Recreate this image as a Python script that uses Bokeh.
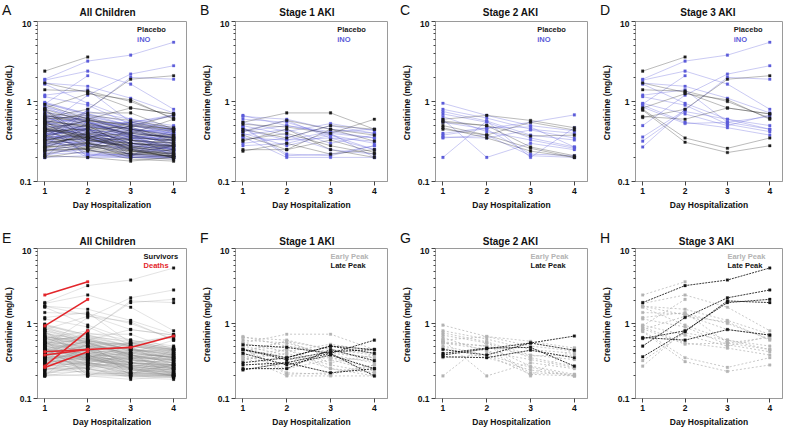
import math
from bokeh.plotting import figure
from bokeh.layouts import column, row
from bokeh.models import Label, FixedTicker
from bokeh.embed import file_html
from bokeh.resources import INLINE

nan = float("nan")

days = [1, 2, 3, 4]
y_major = [0.1, 1, 10]
y_major_labels = ["0.1", "1", "10"]
y_minor = [0.2, 0.3, 0.4, 0.5, 0.6, 0.7, 0.8, 0.9, 2, 3, 4, 5, 6, 7, 8, 9]

# rows: (day1, day2, day3, day4, treatment P/I, peak E/L/-, outcome S/D)
no_aki = [
    (0.98, 0.70, 0.55, 0.45, "I", "-", "S"), (0.92, 0.60, 0.42, 0.35, "P", "-", "S"),
    (0.85, 0.65, 0.50, 0.40, "I", "-", "S"), (0.80, 0.55, 0.38, 0.30, "P", "-", "S"),
    (0.75, 0.50, 0.45, 0.42, "I", "-", "S"), (0.72, 0.62, 0.48, 0.33, "P", "-", "S"),
    (0.70, 0.45, 0.30, 0.25, "I", "-", "S"), (0.68, 0.52, 0.40, 0.36, "P", "-", "S"),
    (0.65, 0.40, 0.35, 0.28, "I", "-", "S"), (0.62, 0.58, 0.52, 0.45, "P", "-", "S"),
    (0.60, 0.38, 0.30, 0.22, "I", "-", "S"), (0.58, 0.48, 0.33, 0.30, "P", "-", "S"),
    (0.56, 0.35, 0.28, 0.26, "I", "-", "S"), (0.55, 0.60, 0.45, 0.38, "I", "-", "S"),
    (0.53, 0.42, 0.36, 0.32, "P", "-", "S"), (0.52, 0.30, 0.25, 0.20, "P", "-", "S"),
    (0.50, 0.44, 0.40, 0.35, "I", "-", "S"), (0.48, 0.36, 0.30, 0.27, "P", "-", "S"),
    (0.47, 0.55, 0.38, 0.30, "I", "-", "S"), (0.46, 0.33, 0.27, 0.24, "P", "-", "S"),
    (0.45, 0.40, 0.33, 0.28, "I", "-", "S"), (0.44, 0.28, 0.22, 0.21, "P", "-", "S"),
    (0.43, 0.38, 0.35, 0.40, "I", "-", "S"), (0.42, 0.46, 0.30, 0.26, "P", "-", "S"),
    (0.41, 0.32, 0.28, 0.25, "I", "-", "S"), (0.40, 0.35, 0.25, 0.22, "P", "-", "S"),
    (0.39, 0.42, 0.37, 0.33, "I", "-", "S"), (0.38, 0.30, 0.20, 0.19, "P", "-", "S"),
    (0.37, 0.36, 0.32, 0.30, "I", "-", "S"), (0.36, 0.27, 0.24, 0.21, "P", "-", "S"),
    (0.35, 0.40, 0.45, 0.38, "I", "-", "S"), (0.34, 0.33, 0.28, 0.25, "P", "-", "S"),
    (0.33, 0.25, 0.19, 0.18, "P", "-", "S"), (0.33, 0.38, 0.30, 0.28, "I", "-", "S"),
    (0.32, 0.30, 0.26, 0.24, "I", "-", "S"), (0.31, 0.35, 0.33, 0.30, "P", "-", "S"),
    (0.30, 0.28, 0.22, 0.20, "I", "-", "S"), (0.30, 0.36, 0.40, 0.35, "P", "-", "S"),
    (0.29, 0.32, 0.27, 0.23, "I", "-", "S"), (0.28, 0.25, 0.21, 0.20, "P", "-", "S"),
    (0.28, 0.34, 0.30, 0.27, "I", "-", "S"), (0.27, 0.30, 0.24, 0.22, "P", "-", "S"),
    (0.26, 0.22, 0.20, 0.19, "I", "-", "S"), (0.26, 0.31, 0.35, 0.33, "P", "-", "S"),
    (0.25, 0.28, 0.25, 0.23, "I", "-", "S"), (0.24, 0.26, 0.22, 0.21, "P", "-", "S"),
    (0.24, 0.33, 0.28, 0.25, "I", "-", "S"), (0.23, 0.25, 0.20, 0.20, "I", "-", "S"),
    (0.22, 0.27, 0.30, 0.28, "P", "-", "S"), (0.22, 0.23, 0.21, 0.21, "I", "-", "S"),
    (0.21, 0.20, 0.18, 0.20, "P", "-", "S"), (0.21, 0.29, 0.26, 0.24, "I", "-", "S"),
    (0.20, 0.24, 0.22, 0.23, "P", "-", "S"), (0.20, 0.21, 0.20, 0.21, "I", "-", "S"),
    (0.36, 0.52, 0.45, 0.36, "P", "-", "S"), (0.31, 0.45, 0.36, 0.32, "I", "-", "S"),
    (0.45, 0.58, 0.50, 0.42, "P", "-", "S"), (0.40, 0.50, 0.55, 0.48, "I", "-", "S"),
    (0.50, 0.65, 0.42, 0.35, "I", "-", "S"), (0.27, 0.40, 0.33, 0.28, "P", "-", "S"),
    (0.55, 0.33, 0.30, 0.28, "P", "-", "S"), (0.63, 0.45, 0.38, 0.33, "I", "-", "S"),
    (0.34, 0.28, 0.34, 0.37, "I", "-", "S"), (0.29, 0.38, 0.25, 0.29, "P", "-", "S"),
    (0.42, 0.45, 0.48, 0.68, "P", "-", "D"), (0.38, 0.45, nan, nan, "I", "-", "D"),
    (0.26, 0.42, nan, nan, "P", "-", "D"),
]

stage1 = [
    (0.55, 0.72, 0.72, 0.45, "P", "E", "S"), (0.52, 0.48, 0.40, 0.60, "P", "L", "S"),
    (0.45, 0.35, 0.50, 0.45, "P", "L", "S"), (0.42, 0.58, 0.45, 0.38, "P", "E", "S"),
    (0.38, 0.25, 0.33, 0.23, "P", "E", "S"), (0.33, 0.40, 0.28, 0.22, "P", "E", "S"),
    (0.32, 0.45, 0.25, 0.20, "P", "E", "S"), (0.25, 0.25, 0.45, 0.32, "P", "L", "S"),
    (0.24, 0.30, 0.22, 0.25, "P", "L", "S"),
    (0.67, 0.50, 0.42, 0.35, "I", "E", "S"), (0.65, 0.60, 0.45, 0.40, "I", "E", "S"),
    (0.60, 0.55, 0.38, 0.30, "I", "E", "S"), (0.55, 0.42, 0.53, 0.43, "I", "E", "S"),
    (0.50, 0.38, 0.25, 0.22, "I", "E", "S"), (0.47, 0.21, 0.22, 0.28, "I", "E", "S"),
    (0.45, 0.33, 0.42, 0.45, "I", "L", "S"), (0.43, 0.58, 0.35, 0.32, "I", "E", "S"),
    (0.40, 0.28, 0.38, 0.25, "I", "L", "S"), (0.38, 0.45, 0.30, 0.38, "I", "E", "S"),
    (0.36, 0.20, 0.20, 0.20, "I", "E", "S"), (0.30, 0.35, 0.50, 0.40, "I", "L", "S"),
    (0.28, 0.30, 0.40, 0.20, "I", "L", "S"), (0.48, 0.22, 0.21, 0.28, "I", "E", "S"),
    (0.42, 0.50, 0.40, 0.35, "I", "E", "S"), (0.35, 0.33, 0.35, 0.25, "I", "E", "S"),
]

stage2 = [
    (0.60, 0.67, 0.58, 0.47, "P", "E", "S"), (0.57, 0.50, 0.37, 0.38, "P", "E", "S"),
    (0.55, 0.50, 0.27, 0.21, "P", "E", "S"), (0.50, 0.38, 0.26, 0.20, "P", "E", "S"),
    (0.47, 0.35, 0.24, 0.20, "P", "E", "S"), (0.45, 0.38, 0.55, 0.44, "P", "L", "S"),
    (0.95, 0.67, 0.50, 0.43, "I", "E", "S"), (0.80, 0.62, 0.45, 0.40, "I", "E", "S"),
    (0.75, 0.57, 0.38, 0.33, "I", "E", "S"), (0.70, 0.55, 0.35, 0.27, "I", "E", "S"),
    (0.65, 0.42, 0.33, 0.26, "I", "E", "S"), (0.60, 0.20, 0.30, 0.25, "I", "E", "S"),
    (0.55, 0.45, 0.22, 0.21, "I", "E", "S"), (0.40, 0.47, 0.48, 0.27, "I", "L", "S"),
    (0.38, 0.46, 0.55, 0.68, "I", "L", "S"), (0.36, 0.35, 0.44, 0.35, "I", "L", "S"),
    (0.35, 0.38, 0.21, 0.20, "I", "E", "S"), (0.20, 0.57, 0.20, 0.47, "I", "E", "S"),
]

stage3 = [
    (0.80, 0.35, 0.26, 0.35, "P", "E", "S"), (0.78, 0.31, 0.23, 0.28, "P", "E", "S"),
    (1.70, 1.30, 0.83, 0.70, "P", "E", "S"), (1.40, 1.35, 1.00, 0.62, "P", "E", "S"),
    (0.65, 0.60, 0.83, 0.70, "P", "L", "S"), (0.63, 0.80, 1.90, 2.10, "P", "L", "S"),
    (0.83, 1.25, 1.05, 0.60, "P", "E", "S"), (2.40, 3.60, nan, nan, "P", "E", "D"),
    (1.90, 3.20, 3.80, 5.50, "I", "L", "S"), (0.50, 1.20, 2.20, 2.80, "I", "L", "S"),
    (0.36, 0.78, 2.00, 1.90, "I", "L", "S"), (1.85, 2.40, 1.65, 0.80, "I", "E", "S"),
    (1.70, 1.55, 1.10, 0.72, "I", "E", "S"), (1.65, 0.95, 0.60, 0.50, "I", "E", "S"),
    (1.20, 1.40, 0.55, 0.45, "I", "E", "S"), (1.15, 0.90, 0.52, 0.42, "I", "E", "S"),
    (0.95, 0.70, 0.50, 0.68, "I", "E", "S"), (0.90, 0.55, 0.47, 0.38, "I", "E", "S"),
    (0.85, 0.53, 0.55, 0.65, "I", "E", "S"), (0.32, 0.75, 0.60, 0.45, "I", "E", "S"),
    (0.93, 2.10, nan, nan, "I", "E", "D"), (0.27, 0.80, nan, nan, "I", "E", "D"),
]

all_children = no_aki + stage1 + stage2 + stage3

FONT = "Liberation Sans"
PLACEBO = "#1c1c1c"
INO = "#5c5cd9"
DEATH = "#e3262b"
EARLY = "#b3b3b3"
LATE = "#141414"

# group styles: (column index, key, line_color, line_alpha, line_width, dash, marker_color)
style_trt = [(4, "I", INO, 0.55, 0.6, "solid", INO), (4, "P", PLACEBO, 0.5, 0.6, "solid", PLACEBO)]
style_out = [(6, "S", "#8f8f8f", 0.5, 0.5, "solid", "#111111"), (6, "D", DEATH, 1.0, 1.6, "solid", DEATH)]
style_peak = [(5, "E", EARLY, 0.9, 0.8, "2 2", EARLY), (5, "L", LATE, 0.95, 0.9, "2 1", LATE)]

legend_trt = [("Placebo", PLACEBO), ("iNO", INO)]
legend_out = [("Survivors", "#111111"), ("Deaths", DEATH)]
legend_peak = [("Early Peak", EARLY), ("Late Peak", LATE)]

widths = [198, 200, 200, 186]
lefts = [28, 28, 35, 35]
rights = [12, 11, 11, 2]
TOTAL_W = sum(widths)


def make_header(letters, titles, h, letter_mid, title_mid):
    hp = figure(width=TOTAL_W, height=h, x_range=(0, TOTAL_W), y_range=(0, h),
                title=None, output_backend="svg", toolbar_location=None,
                min_border=0, min_border_left=0, min_border_right=0,
                min_border_top=0, min_border_bottom=0,
                x_axis_location=None, y_axis_location=None)
    hp.outline_line_color = None
    hp.xgrid.visible = False
    hp.ygrid.visible = False
    starts = [sum(widths[:i]) for i in range(4)]
    for i, s in enumerate(starts):
        tx = s + lefts[i] + (widths[i] - lefts[i] - rights[i]) / 2
        hp.add_layout(Label(x=s + 1.5, y=letter_mid, text=letters[i], text_font=FONT,
                            text_font_size="14px", text_color="#111111",
                            text_baseline="middle", text_align="left"))
        hp.add_layout(Label(x=tx, y=title_mid, text=titles[i], text_font=FONT,
                            text_font_size="10px", text_font_style="bold",
                            text_color="#111111", text_baseline="middle",
                            text_align="center"))
    return hp


def make_panel(rows, styles, legend, w, h, bl, br, bt, bb, leg_x):
    p = figure(width=w, height=h, x_range=(0.83, 4.3), y_range=(0.1, 10),
               y_axis_type="log", output_backend="svg", toolbar_location=None,
               min_border_left=bl, min_border_right=br, min_border_top=bt,
               min_border_bottom=bb)
    p.xgrid.visible = False
    p.ygrid.visible = False
    p.outline_line_color = "#9a9a9a"
    p.outline_line_width = 1
    p.background_fill_color = "white"
    p.border_fill_color = "white"

    p.xaxis.ticker = FixedTicker(ticks=days)
    p.yaxis.ticker = FixedTicker(ticks=y_major, minor_ticks=y_minor)
    p.yaxis.major_label_overrides = {t: s for t, s in zip(y_major, y_major_labels)}
    for ax in (p.xaxis[0], p.yaxis[0]):
        ax.axis_line_color = "#9a9a9a"
        ax.major_tick_line_color = "#444444"
        ax.minor_tick_line_color = "#444444"
        ax.major_tick_out = 4
        ax.major_tick_in = 0
        ax.minor_tick_out = 2
        ax.minor_tick_in = 0
        ax.major_label_text_font = FONT
        ax.major_label_text_font_style = "bold"
        ax.major_label_text_font_size = "8.5px"
        ax.major_label_text_color = "#111111"
        ax.axis_label_text_font = FONT
        ax.axis_label_text_font_style = "bold"
        ax.axis_label_text_font_size = "8.5px"
        ax.axis_label_text_color = "#111111"
        ax.major_label_standoff = 2
        ax.axis_label_standoff = 3
    p.xaxis.axis_label = "Day Hospitalization"
    p.yaxis.axis_label = "Creatinine  (mg/dL)"

    for col, key, lc, la, lw, dash, mc in styles:
        grp = [r for r in rows if r[col] == key]
        xs, ys, px, py = [], [], [], []
        for r in grp:
            vals = list(r[:4])
            xs.append(days)
            ys.append(vals)
            for d, v in zip(days, vals):
                if not math.isnan(v):
                    px.append(d)
                    py.append(v)
        p.multi_line(xs, ys, line_color=lc, line_alpha=la, line_width=lw, line_dash=dash)
        p.scatter(px, py, marker="square", size=2.6, fill_color=mc, line_color=mc,
                  line_width=0.3)

    for (txt, colr), yv in zip(legend, [7.9, 5.9]):
        p.add_layout(Label(x=leg_x, y=yv, text=txt, text_font=FONT, text_font_size="7.5px",
                           text_font_style="bold", text_color=colr,
                           text_baseline="middle", text_align="left"))
    return p


top_specs = [("A", "All Children", all_children), ("B", "Stage 1 AKI", stage1),
             ("C", "Stage 2 AKI", stage2), ("D", "Stage 3 AKI", stage3)]
bot_specs = [("E", "All Children", all_children), ("F", "Stage 1 AKI", stage1),
             ("G", "Stage 2 AKI", stage2), ("H", "Stage 3  AKI", stage3)]

hdr1 = make_header([s[0] for s in top_specs], [s[1] for s in top_specs], 20, 11, 8.5)
top = []
for i, (lt, tt, rows) in enumerate(top_specs):
    top.append(make_panel(rows, style_trt, legend_trt, widths[i], 194,
                          lefts[i], rights[i], 1, 33, 3.15))

hdr2 = make_header([s[0] for s in bot_specs], [s[1] for s in bot_specs], 33, 10, 6)
bot = []
for i, (lt, tt, rows) in enumerate(bot_specs):
    if i == 0:
        st, lg, lx = style_out, legend_out, 3.3
    else:
        st, lg, lx = style_peak, legend_peak, 3.0
    bot.append(make_panel(rows, st, lg, widths[i], 182, lefts[i], rights[i], 1, 28, lx))

layout = column(hdr1, row(*top), hdr2, row(*bot))
open("out.html", "w").write(file_html(layout, INLINE))
